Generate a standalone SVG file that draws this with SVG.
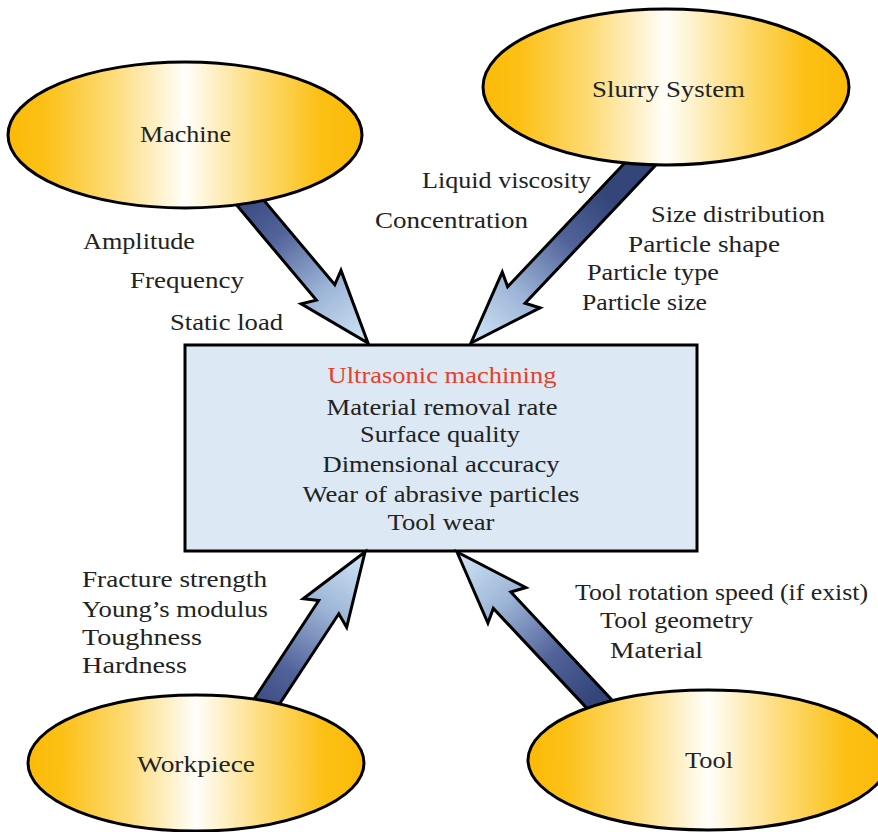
<svg xmlns="http://www.w3.org/2000/svg" xmlns:xlink="http://www.w3.org/1999/xlink" width="878" height="832" viewBox="0 0 878 832">
  <defs>
    <linearGradient id="gold" x1="0" y1="0" x2="1" y2="0">
      <stop offset="0" stop-color="#FBBA08"/>
      <stop offset="0.1" stop-color="#FCC015"/>
      <stop offset="0.3" stop-color="#FDDC7A"/>
      <stop offset="0.5" stop-color="#FFFEFA"/>
      <stop offset="0.7" stop-color="#FDDC7A"/>
      <stop offset="0.88" stop-color="#FCC015"/>
      <stop offset="1" stop-color="#FBBA08"/>
    </linearGradient>
    <linearGradient id="blue" gradientUnits="userSpaceOnUse" x1="-200" y1="0" x2="0" y2="0">
      <stop offset="0" stop-color="#34457A"/>
      <stop offset="0.3" stop-color="#52639A"/>
      <stop offset="0.65" stop-color="#9CB4D6"/>
      <stop offset="1" stop-color="#D2E7F8"/>
    </linearGradient>
  </defs>
  <style>
    .ell { fill: url(#gold); stroke: #000; stroke-width: 3; }
    .arr { fill: url(#blue); stroke: #000; stroke-width: 3; stroke-linejoin: miter; }
    .box { fill: #DCE8F3; stroke: #000; stroke-width: 3; }
    text { font-family: "Liberation Serif", "Times New Roman", serif; font-size: 23px; fill: #222; }
    .c { text-anchor: middle; }
    .red { fill: #E8402A; }
  </style>
  <rect width="878" height="832" fill="#fff"/>

  <g id="center">
    <rect class="box" x="185" y="345" width="512" height="206"/>
    <text class="c red" x="442" y="383" textLength="229" lengthAdjust="spacingAndGlyphs">Ultrasonic  machining</text>
    <text class="c" x="442" y="415" textLength="231" lengthAdjust="spacingAndGlyphs">Material removal rate</text>
    <text class="c" x="440" y="442" textLength="160" lengthAdjust="spacingAndGlyphs">Surface quality</text>
    <text class="c" x="441" y="472" textLength="237" lengthAdjust="spacingAndGlyphs">Dimensional accuracy</text>
    <text class="c" x="441" y="502" textLength="277" lengthAdjust="spacingAndGlyphs">Wear of abrasive particles</text>
    <text class="c" x="441" y="530" textLength="107" lengthAdjust="spacingAndGlyphs">Tool wear</text>
  </g>

  <g id="connectors">
    <path class="arr" transform="translate(368,343) rotate(50)" d="M0,0 L-73,-26 L-66,-12 L-200,-12 L-200,12 L-66,12 L-73,26 Z"/>
    <path class="arr" transform="translate(471,343) rotate(133.4)" d="M0,0 L-73,-26 L-66,-12 L-270,-12 L-270,12 L-66,12 L-73,26 Z"/>
    <path class="arr" transform="translate(365,552) rotate(-56.7)" d="M0,0 L-73,-26 L-66,-12 L-200,-12 L-200,12 L-66,12 L-73,26 Z"/>
    <path class="arr" transform="translate(457,552) rotate(-133.1)" d="M0,0 L-73,-26 L-66,-12 L-230,-12 L-230,12 L-66,12 L-73,26 Z"/>
  </g>

  <g id="machine">
    <ellipse class="ell" cx="185" cy="135" rx="177" ry="73"/>
    <text class="c" x="185.5" y="142" textLength="91" lengthAdjust="spacingAndGlyphs">Machine</text>
  </g>
  <g id="slurry">
    <ellipse class="ell" cx="666" cy="87" rx="183" ry="78"/>
    <text class="c" x="668.5" y="97" textLength="153" lengthAdjust="spacingAndGlyphs">Slurry System</text>
  </g>
  <g id="workpiece">
    <ellipse class="ell" cx="196" cy="763" rx="168" ry="68"/>
    <text class="c" x="196" y="772" textLength="118" lengthAdjust="spacingAndGlyphs">Workpiece</text>
  </g>
  <g id="tool">
    <ellipse class="ell" cx="708" cy="760" rx="180" ry="70"/>
    <text class="c" x="709" y="768" textLength="48" lengthAdjust="spacingAndGlyphs">Tool</text>
  </g>

  <g id="machine-labels">
    <text x="83" y="249" textLength="112" lengthAdjust="spacingAndGlyphs">Amplitude</text>
    <text x="130" y="288" textLength="114" lengthAdjust="spacingAndGlyphs">Frequency</text>
    <text x="170" y="330" textLength="113" lengthAdjust="spacingAndGlyphs">Static load</text>
  </g>
  <g id="slurry-labels">
    <text x="422" y="188" textLength="169" lengthAdjust="spacingAndGlyphs">Liquid viscosity</text>
    <text x="375" y="228" textLength="153" lengthAdjust="spacingAndGlyphs">Concentration</text>
    <text x="651" y="222" textLength="174" lengthAdjust="spacingAndGlyphs">Size distribution</text>
    <text x="628" y="252" textLength="152" lengthAdjust="spacingAndGlyphs">Particle shape</text>
    <text x="587" y="280" textLength="132" lengthAdjust="spacingAndGlyphs">Particle type</text>
    <text x="582" y="310" textLength="125" lengthAdjust="spacingAndGlyphs">Particle size</text>
  </g>
  <g id="workpiece-labels">
    <text x="82" y="587" textLength="185" lengthAdjust="spacingAndGlyphs">Fracture strength</text>
    <text x="82" y="617" textLength="186" lengthAdjust="spacingAndGlyphs">Young’s modulus</text>
    <text x="82" y="645" textLength="120" lengthAdjust="spacingAndGlyphs">Toughness</text>
    <text x="82" y="673" textLength="105" lengthAdjust="spacingAndGlyphs">Hardness</text>
  </g>
  <g id="tool-labels">
    <text x="575" y="600" textLength="293" lengthAdjust="spacingAndGlyphs">Tool rotation speed (if exist)</text>
    <text x="600" y="628" textLength="153" lengthAdjust="spacingAndGlyphs">Tool geometry</text>
    <text x="610" y="658" textLength="93" lengthAdjust="spacingAndGlyphs">Material</text>
  </g>
</svg>
